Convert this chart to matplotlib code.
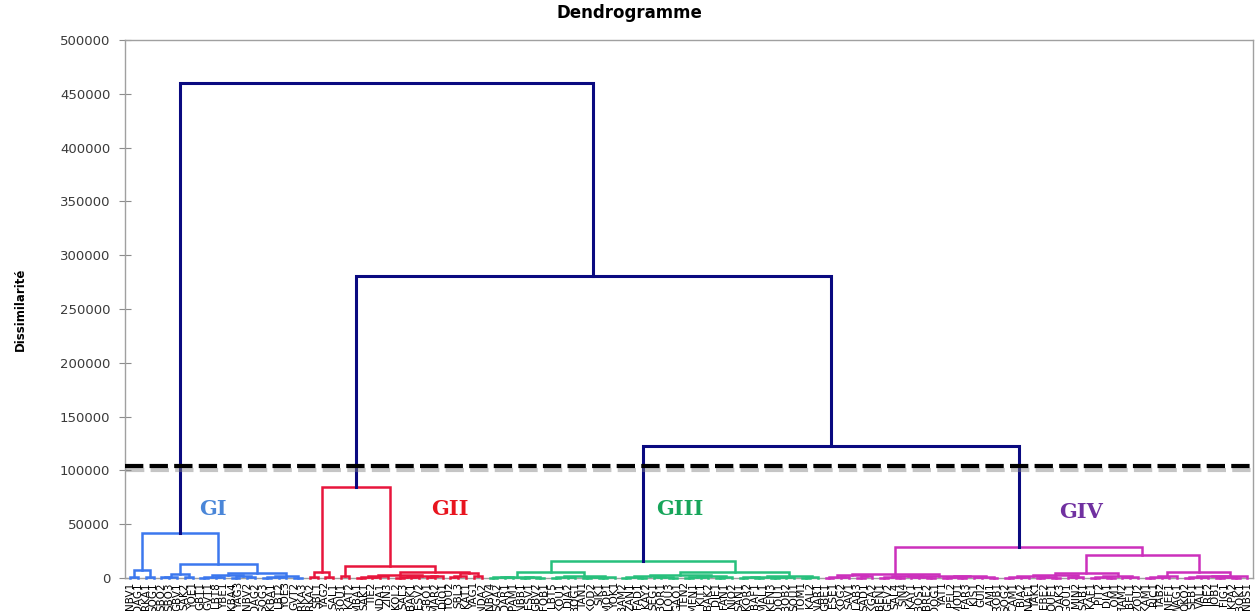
import matplotlib
matplotlib.use("Agg")
import matplotlib.pyplot as plt
import matplotlib.patheffects as pe
from matplotlib.ticker import StrMethodFormatter

# leaf codes for each group, left to right
gi = ["NBV1", "DAG1", "RKA1", "SOG1", "SBO2", "SBO3", "GBV1", "SAK2", "YOE1", "GBT1",
      "GVT1", "LBT8", "YBE1", "KBA4", "YAG3", "NBV2", "DAG2", "SOG3", "KBA1", "LBT2",
      "YOE3", "GVT2", "RKA3"]
gii = ["RKA2", "SBL1", "YAG2", "SAL1", "BOU1", "KAT2", "MBA1", "SAK1", "TIE2", "NDA1",
       "ZIN3", "KOL2", "SAL3", "BAK1", "ESV2", "GBO1", "MAR2", "DIO1", "TOU2", "SBL3",
       "KAT1", "YAG1", "NDA2"]
giii = ["NBV4", "SGA2", "DAR1", "PAM1", "NBB1", "ESV1", "GBV2", "FOB1", "LBT5", "KOU1",
        "DJA2", "BOG1", "TAN1", "KOD2", "SIK1", "MOP1", "YOK1", "BAM2", "ZAN1", "FAD1",
        "KAY2", "SEG1", "BOR1", "LOU3", "GAO1", "TEN2", "MEN1", "KIT1", "BAK2", "DJE1",
        "FAN1", "NIO2", "SAN1", "KOR2", "BAF1", "MAL1", "KEN3", "DOU1", "BOB2", "SOU1",
        "TOM1", "KAL2", "NAR1"]
giv = ["GBE1", "ESE1", "KOG2", "SAV1", "LAB3", "SAD1", "KGA2", "BEN1", "GEV2", "SAL4",
       "SIN4", "KAY1", "BOS1", "BRE2", "DOG1", "YAT1", "PEL2", "MOU1", "FAR3", "KIS1",
       "GUI2", "LAM1", "ROB1", "SOG2", "CAM1", "BIA2", "NAF1", "TAK1", "EBE2", "OUE1",
       "DAK3", "GOU1", "MIN2", "SAB1", "KAF1", "PIT2", "DIA1", "LOM1", "HAM2", "BEL1",
       "ZOU2", "KAM1", "RIC1", "TAB2", "NEF1", "WAG1", "OKO2", "SEB1", "VAL1", "IRE2",
       "JOB1", "FIG1", "KPA2", "BOK1", "NBS1"]

group_names = ["GI", "GII", "GIII", "GIV"]
group_colors = ["#3c78ee", "#e8153c", "#27c07c", "#cc30bc"]
text_colors = ["#4a86d8", "#e8141e", "#17a55a", "#7030a0"]
top_heights = [460000, 281000, 123000]
cut_height = 104000


def grp(names, hs):
    # merge neighbours pairwise, level by level, heights taken in order
    nodes = list(names)
    hs = list(hs)
    while len(nodes) > 1:
        nxt = []
        for k in range(0, len(nodes) - 1, 2):
            nxt.append((hs.pop(0), nodes[k], nodes[k + 1]))
        if len(nodes) % 2:
            nxt.append(nodes[-1])
        nodes = nxt
    return nodes[0]


tree_gi = (42000,
           (7500, grp(gi[0:2], [1200]), grp(gi[2:4], [800])),
           (13000,
            (3700, grp(gi[4:7], [500, 1100]), grp(gi[7:9], [900])),
            (4200,
             grp(gi[9:17], [300, 600, 200, 900, 1300, 1600, 2400]),
             grp(gi[17:23], [400, 700, 300, 1200, 1900]))))

tree_gii = (84500,
            (5600, grp(gii[0:2], [700]), grp(gii[2:4], [500])),
            (11000,
             grp(gii[4:6], [1500]),
             (5800,
              (2800,
               grp(gii[6:11], [400, 800, 1200, 1900]),
               grp(gii[11:18], [300, 500, 900, 1100, 1600, 2200])),
              (4500,
               grp(gii[18:21], [600, 1400]),
               grp(gii[21:23], [2000])))))

tree_giii = (16000,
             (5500,
              grp(giii[0:8], [200, 500, 300, 400, 800, 900, 1200]),
              (2000,
               grp(giii[8:12], [300, 500, 900]),
               grp(giii[12:17], [200, 400, 700, 1100]))),
             (5900,
              grp(giii[17:32], [300, 200, 500, 400, 300, 600, 200,
                                700, 900, 800, 1200, 1500, 1800, 2600]),
              grp(giii[32:43], [200, 400, 300, 500, 300, 700, 900, 600, 1300, 1900])))

tree_giv = (29000,
            (3700,
             grp(giv[0:7], [400, 600, 300, 1000, 1500, 2400]),
             grp(giv[7:23], [200, 300, 500, 200, 400, 300, 600, 200,
                             700, 900, 800, 1100, 1500, 1700, 2200])),
            (21000,
             (4600,
              grp(giv[23:34], [300, 500, 200, 400, 600, 900, 700, 1200, 1800, 2600]),
              grp(giv[34:41], [400, 200, 600, 900, 1300, 2100])),
             (5500,
              grp(giv[41:46], [300, 700, 1100, 1600]),
              grp(giv[46:55], [200, 500, 300, 400, 800, 1000, 1500, 2300]))))

groups = {n: (t, c) for n, t, c in zip(group_names,
                                       [tree_gi, tree_gii, tree_giii, tree_giv],
                                       group_colors)}
top = (top_heights[0], "GI", (top_heights[1], "GII", (top_heights[2], "GIII", "GIV")))

fig = plt.figure(figsize=(12.59, 6.11), dpi=100)
ax = fig.add_axes([0.0993, 0.054, 0.8959, 0.8806])

leaves = []
centers = {}


def draw(node, color, lw):
    if isinstance(node, str):
        if node in groups:
            sub, c = groups[node]
            x, h = draw(sub, c, 1.8)
            centers[node] = x
            return x, h
        leaves.append(node)
        return len(leaves) - 1, 0.0
    h, left, right = node
    x1, h1 = draw(left, color, lw)
    x2, h2 = draw(right, color, lw)
    ax.plot([x1, x1, x2, x2], [h1, h, h, h2], color=color, lw=lw,
            solid_joinstyle="miter", clip_on=False, zorder=3)
    return (x1 + x2) / 2, h


draw(top, "#0a0a80", 2.2)

n = len(leaves)
ax.set_xlim(-0.65, n - 0.3)
ax.set_ylim(0, 500000)

# cut line with a soft shadow underneath
ax.axhline(cut_height, color="black", lw=3, dashes=(4.4, 1.5), zorder=4,
           path_effects=[pe.SimpleLineShadow(offset=(1, -2.5), shadow_color="gray", alpha=0.45),
                         pe.Normal()])

label_pos = [(centers["GI"] + 4.2, 64000), (centers["GII"] + 12, 64000),
             (centers["GIII"] + 4.8, 64000), (centers["GIV"] + 8, 61000)]
for name, (x, y), c in zip(group_names, label_pos, text_colors):
    ax.text(x, y, name, color=c, fontsize=15, fontweight="bold",
            family="DejaVu Serif", ha="center", va="center", zorder=5)

ax.set_xticks(range(n))
ax.set_xticklabels(leaves, rotation=90, fontsize=7.5, va="top")
ax.tick_params(axis="x", length=0, pad=3)

ax.set_yticks(range(0, 500001, 50000))
ax.yaxis.set_major_formatter(StrMethodFormatter("{x:.0f}"))
ax.tick_params(axis="y", direction="inout", length=9, color="#8c8c8c",
               labelsize=9.5, labelcolor="#3a3a3a", pad=6)

for s in ax.spines.values():
    s.set_color("#a0a0a0")
    s.set_linewidth(1.0)

fig.text(0.5, 0.978, "Dendrogramme", ha="center", va="center",
         fontsize=12, fontweight="bold")
fig.text(0.016, 0.494, "Dissimilarité", rotation=90, ha="center", va="center",
         fontsize=8.5, fontweight="bold", family=["Liberation Sans Narrow", "DejaVu Sans"])

fig.savefig("out.png", dpi=100)
